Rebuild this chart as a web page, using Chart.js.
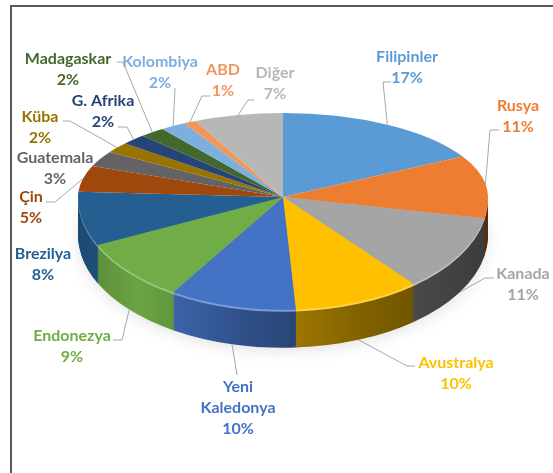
<!DOCTYPE html>
<html>
<head>
<meta charset="utf-8">
<script src="https://cdn.jsdelivr.net/npm/chart.js@4/dist/chart.umd.min.js"></script>
<style>
  html, body { margin: 0; padding: 0; background: #fff; }
  #wrap { position: relative; width: 553px; height: 473px; }
  #frame { position: absolute; left: 10px; top: 5px; right: 0; bottom: 0;
           border-left: 2px solid #5a5a5a; border-top: 2px solid #5a5a5a; }
  canvas { position: absolute; left: 0; top: 0; }
</style>
</head>
<body>
<div id="wrap">
  <div id="frame"></div>
  <canvas id="pie" width="553" height="473"></canvas>
</div>
<script>
const countries = ['Filipinler', 'Rusya', 'Kanada', 'Avustralya', 'Yeni Kaledonya', 'Endonezya',
  'Brezilya', 'Çin', 'Guatemala', 'Küba', 'G. Afrika', 'Madagaskar', 'Kolombiya', 'ABD', 'Diğer'];
const shares = [17, 11, 11, 10, 10, 9, 8, 5, 3, 2, 2, 2, 2, 1, 7];

const sliceColors = ['#5B9BD5', '#ED7D31', '#A5A5A5', '#FFC000', '#4472C4', '#70AD47',
  '#255E91', '#9E480E', '#636363', '#997300', '#264478', '#43682B', '#7CAFDD', '#F1975A', '#B7B7B7'];

// where each label sits (centre of first line) and its leader elbow [x, y, endX]
const labelAt = [
  [407, 57, [383, 82, 391]],
  [518, 106, [490, 130, 499]],
  [523, 274, [485, 278, 494]],
  [456, 363, [407, 366, 415]],
  [238, 387, [237, 375, 237]],
  [72, 336, [122, 340, 113]],
  [43, 254, null],
  [31, 197, [55, 202, 46]],
  [55, 158, null],
  [40, 117, [70, 121, 63]],
  [103, 101, [127, 127, 118]],
  [68, 59, [123, 62, 117]],
  [160, 62, [175, 88, 175]],
  [223, 70, [202, 96, 210]],
  [275, 73, [248, 100, 254]]
];

// 3d look
const cx = 283, cy = 197, R = 205, kTop = 0.41, kBot = 0.55, depth = 38;

function shade(hex, f) {
  const n = parseInt(hex.slice(1), 16);
  let c = [(n >> 16) & 255, (n >> 8) & 255, n & 255];
  c = c.map(v => f <= 1 ? Math.round(v * f) : Math.round(v + (255 - v) * (f - 1)));
  return `rgb(${c[0]},${c[1]},${c[2]})`;
}

function placeArcs(ctx, a0, k, dy) {
  const s = R / a0.outerRadius;
  ctx.translate(cx, cy + dy);
  ctx.scale(s, s * k);
  ctx.translate(-a0.x, -a0.y);
}

function drawWith(arc, ctx, fill) {
  const saved = arc.options;
  arc.options = Object.assign({}, saved, { backgroundColor: fill, borderWidth: 0 });
  arc.draw(ctx);
  arc.options = saved;
}

function sideFill(ctx, a0, i) {
  const s = R / a0.outerRadius;
  const g = ctx.createLinearGradient(a0.x - R / s, 0, a0.x + R / s, 0);
  const c = sliceColors[i];
  g.addColorStop(0, shade(c, 0.78));
  g.addColorStop(0.15, shade(c, 0.95));
  g.addColorStop(0.4, shade(c, 0.7));
  g.addColorStop(0.7, shade(c, 0.5));
  g.addColorStop(1, shade(c, 0.36));
  return g;
}

const pie3d = {
  id: 'pie3d',
  beforeDatasetsDraw(chart) {
    const ctx = chart.ctx;
    const arcs = chart.getDatasetMeta(0).data;
    const W = chart.width, H = chart.height;
    const a0 = arcs[0];

    // soft shadow under the pie
    ctx.save();
    ctx.filter = 'blur(7px)';
    ctx.beginPath(); ctx.rect(0, cy, W, H); ctx.clip();
    placeArcs(ctx, a0, kBot, depth + 4);
    arcs.forEach(arc => drawWith(arc, ctx, 'rgba(0,0,0,0.10)'));
    ctx.restore();

    // side wall
    for (let d = depth; d >= 1; d--) {
      ctx.save();
      ctx.beginPath(); ctx.rect(0, cy + d, W, H); ctx.clip();
      placeArcs(ctx, a0, kBot, d);
      arcs.forEach((arc, i) => {
        const fill = d <= 2 ? shade(sliceColors[i], 1.3) : sideFill(ctx, a0, i);
        drawWith(arc, ctx, fill);
      });
      ctx.restore();
    }

    // top face, back half flatter than front half
    [[0, cy, kTop], [cy, H - cy, kBot]].forEach(([y0, h, k]) => {
      ctx.save();
      ctx.beginPath(); ctx.rect(0, y0, W, h); ctx.clip();
      placeArcs(ctx, a0, k, 0);
      arcs.forEach((arc, i) => drawWith(arc, ctx, sliceColors[i]));
      ctx.restore();
    });
    return false;
  },
  afterDraw(chart) {
    const ctx = chart.ctx;
    const arcs = chart.getDatasetMeta(0).data;
    ctx.save();
    ctx.strokeStyle = '#A6A6A6';
    ctx.lineWidth = 1;
    arcs.forEach((arc, i) => {
      const lay = labelAt[i];
      if (!lay[2]) return;
      const mid = (arc.startAngle + arc.endAngle) / 2;
      const sy = Math.sin(mid);
      const ax = cx + R * Math.cos(mid);
      const ay = cy + R * sy * (sy < 0 ? kTop : kBot) + (sy > 0 ? depth : 0);
      const [ex, ey, endX] = lay[2];
      ctx.beginPath();
      ctx.moveTo(ax, ay);
      ctx.lineTo(ex, ey);
      ctx.lineTo(endX, ey);
      ctx.stroke();
    });

    ctx.font = 'bold 16px Lato';
    ctx.textAlign = 'center';
    ctx.textBaseline = 'middle';
    countries.forEach((name, i) => {
      const [x, y] = labelAt[i];
      const lines = ctx.measureText(name).width > 95 ? name.split(' ') : [name];
      lines.push(shares[i] + '%');
      ctx.fillStyle = sliceColors[i];
      lines.forEach((t, j) => ctx.fillText(t, x, y + j * 21));
    });
    ctx.restore();
  }
};

new Chart(document.getElementById('pie'), {
  type: 'pie',
  data: {
    labels: countries,
    datasets: [{
      data: shares,
      backgroundColor: sliceColors,
      borderWidth: 0
    }]
  },
  options: {
    responsive: false,
    animation: false,
    events: [],
    layout: { padding: { left: 78, right: 65, top: 30, bottom: 33 } },
    plugins: {
      legend: { display: false },
      tooltip: { enabled: false }
    }
  },
  plugins: [pie3d]
});
</script>
</body>
</html>
